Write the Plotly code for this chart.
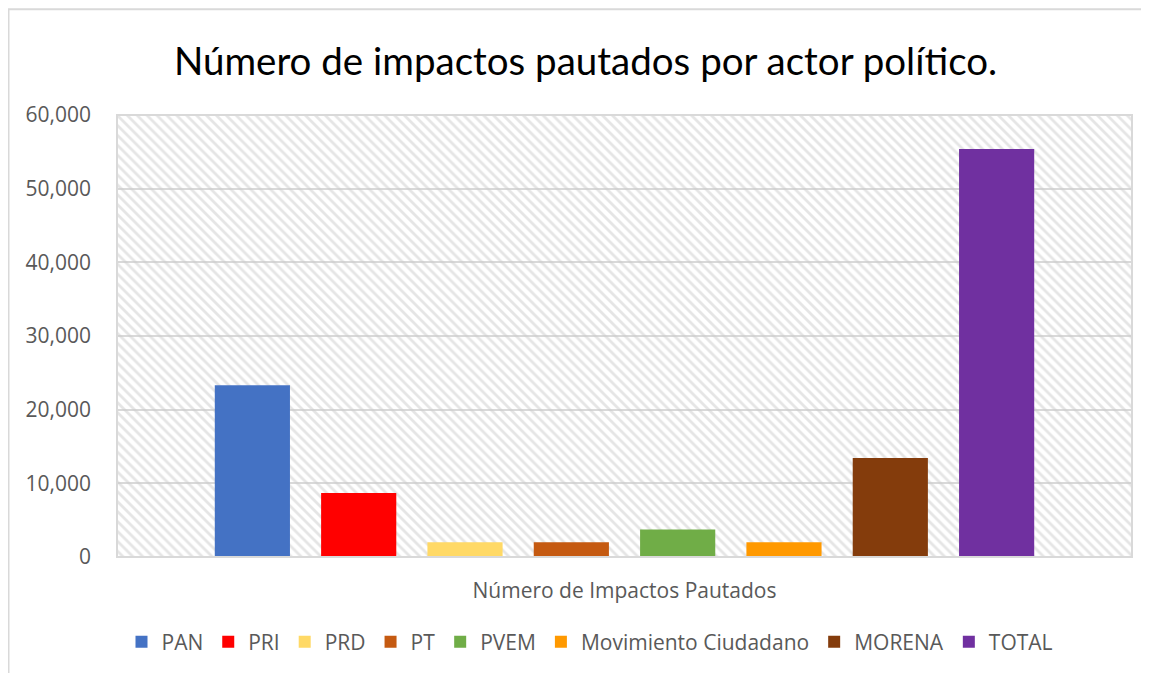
import plotly.graph_objects as go

# datos
categoria = ["Número de Impactos Pautados"]
actores = ["PAN", "PRI", "PRD", "PT", "PVEM", "Movimiento Ciudadano", "MORENA", "TOTAL"]
impactos = [23300, 8700, 2000, 2000, 3750, 2000, 13450, 55400]
colores = ["#4472C4", "#FF0000", "#FFD966", "#C55A11", "#70AD47", "#FF9900", "#843C0C", "#7030A0"]
y_ticks = [0, 10000, 20000, 30000, 40000, 50000, 60000]

# la pagina tiene 8px de margen en body
W, H = 1141, 665
L, R, T, B = 109, 17, 107, 115
pw, ph = W - L - R, H - T - B

fig = go.Figure()

# fondo rayado del area de trazado
fig.add_trace(go.Scatter(
    x=[0, 1, 1, 0, 0], y=[0, 0, 1, 1, 0],
    mode="lines", fill="toself", line=dict(width=0),
    fillcolor="rgba(0,0,0,0)",
    fillpattern=dict(shape="\\", fgcolor="#cccccc", bgcolor="rgba(0,0,0,0)",
                     size=7, solidity=0.4),
    hoverinfo="skip", showlegend=False, xaxis="x", yaxis="y",
))

for actor, valor, color in zip(actores, impactos, colores):
    fig.add_trace(go.Bar(
        x=categoria, y=[valor], name=actor,
        marker=dict(color=color, line=dict(width=0)),
        xaxis="x2", yaxis="y2",
    ))

fnt = "Open Sans"
fig.update_layout(
    width=W, height=H,
    margin=dict(l=L, r=R, t=T, b=B),
    paper_bgcolor="white", plot_bgcolor="white",
    barmode="group", bargap=0.162, bargroupgap=0.293,
    title=dict(text="Número de impactos pautados por actor político.",
               xref="container", x=(585.5 - 8) / W, xanchor="center",
               yref="container", y=1 - 54 / H, yanchor="middle",
               font=dict(family="Lato", size=38.5, color="black")),
    xaxis=dict(range=[0, 1], visible=False, fixedrange=True),
    yaxis=dict(range=[0, 1], visible=False, fixedrange=True),
    xaxis2=dict(overlaying="x", type="category", showgrid=False, ticks="",
                ticklabelstandoff=19, showline=False,
                tickfont=dict(family=fnt, size=21, color="#595959")),
    yaxis2=dict(overlaying="y", range=[0, 60000], tickvals=y_ticks,
                tickformat=",", showgrid=True, gridcolor="#d9d9d9", gridwidth=1.5,
                zeroline=False, ticks="", ticklabelstandoff=25, side="left",
                tickfont=dict(family=fnt, size=21, color="#595959")),
    legend=dict(orientation="h", x=(590 - 117) / pw, xanchor="center",
                y=(558 - 642) / ph, yanchor="middle",
                font=dict(family=fnt, size=21, color="#595959"),
                itemwidth=30, tracegroupgap=0),
    showlegend=True,
    shapes=[
        # borde del area de trazado
        dict(type="rect", xref="paper", yref="paper", x0=0, x1=1, y0=0, y1=1,
             line=dict(color="#d9d9d9", width=2), layer="above"),
        # borde exterior del grafico
        dict(type="rect", xref="paper", yref="paper",
             x0=(0.5 - L) / pw, x1=(W + 20 - L) / pw,
             y0=-(B + 20) / ph, y1=1 + (T - 1) / ph,
             line=dict(color="#d9d9d9", width=2)),
    ],
)

fig.write_html("out.html")
